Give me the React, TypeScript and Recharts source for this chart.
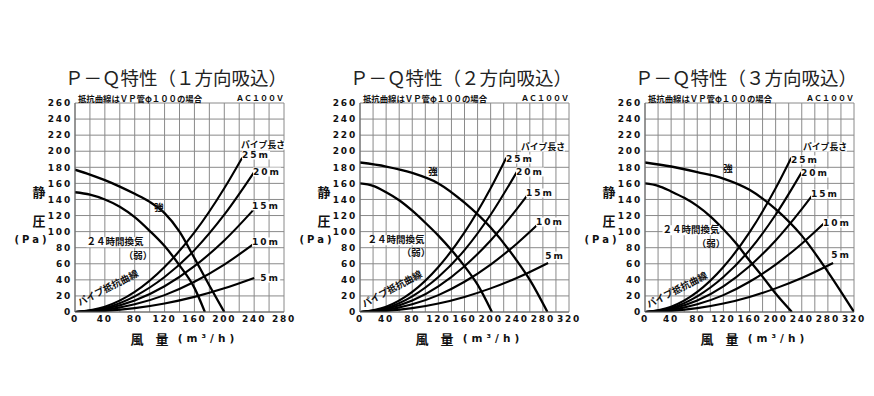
import React from 'react';
import { LineChart, Line, XAxis, YAxis, CartesianGrid } from 'recharts';

// ---------- data ----------
// Pipe resistance curves, VP pipe φ100 : [airflow m3/h, static pressure Pa]
const pipe25m = [[0, 0], [40, 6.5], [80, 25], [120, 56], [160, 99], [200, 154], [224, 192]];
const pipe20m = [[0, 0], [40, 5], [80, 19.5], [120, 43.5], [160, 77], [200, 121], [240, 174]];
const pipe15m = [[0, 0], [40, 3.8], [80, 14.2], [120, 32], [160, 57], [200, 89], [240, 128], [257, 146]];
const pipe10m = [[0, 0], [40, 2.6], [80, 9.6], [120, 21], [160, 37.6], [200, 59], [240, 85], [275, 111]];
const pipe5m = [[0, 0], [40, 1.4], [80, 4.8], [120, 10.6], [160, 18.8], [200, 29.4], [240, 42.3], [288, 61]];

// 1-direction intake
const strong1 = [[0, 177], [20, 171], [40, 164], [60, 156], [80, 147], [100, 137], [120, 123], [140, 100], [160, 67], [180, 33], [200, 0]];
const weak1 = [[0, 149], [20, 146], [40, 140], [60, 131], [80, 118], [100, 101], [120, 82], [140, 58], [160, 30], [174, 0]];
// 2-direction intake
const strong2 = [[0, 186], [40, 181], [80, 173], [120, 160], [160, 136], [200, 105], [240, 64], [260, 40], [287, 0]];
const weak2 = [[0, 160], [20, 157], [40, 149], [60, 139], [80, 126], [100, 111], [120, 95], [140, 77], [160, 57], [180, 34], [202, 0]];
// 3-direction intake
const strong3 = [[0, 186], [40, 181], [80, 174], [120, 166], [160, 152], [200, 128], [240, 95], [280, 50], [320, 0]];
const weak3 = [[0, 160], [20, 157], [40, 150], [60, 142], [80, 132], [100, 119], [120, 103], [140, 85], [160, 64], [180, 44], [200, 23], [225, 0]];

const xTicks280 = [0, 20, 40, 60, 80, 100, 120, 140, 160, 180, 200, 220, 240, 260, 280];
const xTicks320 = [0, 20, 40, 60, 80, 100, 120, 140, 160, 180, 200, 220, 240, 260, 280, 300, 320];
const yTicks = [0, 20, 40, 60, 80, 100, 120, 140, 160, 180, 200, 220, 240, 260];

const titles = ['Ｐ－Ｑ特性（１方向吸込）', 'Ｐ－Ｑ特性（２方向吸込）', 'Ｐ－Ｑ特性（３方向吸込）'];
const subtitle = '抵抗曲線はＶＰ管φ１００の場合';
const voltage = 'ＡＣ１００Ｖ';
const pipeNames = ['25m', '20m', '15m', '10m', '5m'];
const pipeHeader = 'パイプ長さ';
const strongLabel = '強';
const weakLabel1 = '２４時間換気';
const weakLabel2 = '（弱）';
const pipeCurveLabel = 'パイプ抵抗曲線';

// ---------- helpers ----------
const JP = "'Noto Sans CJK JP', 'DejaVu Sans', sans-serif";
const NUM = "'DejaVu Sans', 'Noto Sans CJK JP', sans-serif";
const toPts = (arr: number[][]) => arr.map(([x, y]) => ({ x, y }));

type TProps = {
  x: number; y: number; children: React.ReactNode; size?: number; weight?: number;
  family?: string; rotate?: number; bg?: boolean; ls?: number; anchor?: 'start' | 'middle' | 'end'; color?: string;
};
const T = ({ x, y, children, size = 9, weight = 700, family = JP, rotate = 0, bg = true, ls = 0, anchor = 'middle', color = '#111' }: TProps) => {
  const tx = anchor === 'middle' ? '-50%' : anchor === 'end' ? '-100%' : '0';
  return (
    <div
      style={{
        position: 'absolute', left: x, top: y,
        transform: `translate(${tx}, -50%) rotate(${rotate}deg)`,
        fontSize: size, fontWeight: weight, fontFamily: family, lineHeight: 1,
        whiteSpace: 'nowrap', background: bg ? '#fff' : 'transparent',
        letterSpacing: ls, color,
      }}
    >
      {children}
    </div>
  );
};

type Ann = {
  header: [number, number];
  pipes: [number, number][];
  strong: [number, number];
  weakA: [number, number];
  weakB: [number, number];
  curve: [number, number, number];
};

type PanelProps = {
  idx: number; chartLeft: number; width: number; yAxisWidth: number; marginRight: number;
  xMax: number; xTicks: number[]; strong: number[][]; weak: number[][]; ann: Ann;
};

const PLOT_TOP = 103;
const PLOT_BOTTOM = 312;
const H = 396;

const Panel = ({ idx, chartLeft, width, yAxisWidth, marginRight, xMax, xTicks, strong, weak, ann }: PanelProps) => {
  const plotLeft = chartLeft + yAxisWidth;
  const plotRight = chartLeft + width - marginRight;
  const pipes = [pipe25m, pipe20m, pipe15m, pipe10m, pipe5m].map((p) =>
    idx === 0 ? p.filter(([q]) => q <= 240) : p
  );
  const tickStyle = { fontSize: 9, fontWeight: 700, fill: '#111', fontFamily: NUM, letterSpacing: 1.8 };
  return (
    <>
      <div style={{ position: 'absolute', left: chartLeft, top: 0 }}>
        <LineChart
          width={width}
          height={H}
          margin={{ top: PLOT_TOP, right: marginRight, bottom: H - PLOT_BOTTOM - 20, left: 0 }}
        >
          <CartesianGrid stroke="#8a8a8a" strokeWidth={1} />
          <XAxis
            dataKey="x" type="number" domain={[0, xMax]} ticks={xTicks} interval={0}
            allowDataOverflow height={20} tickSize={0} tickMargin={4}
            axisLine={{ stroke: '#666' }} tickLine={false} tick={tickStyle}
            tickFormatter={(v: number) => (v % 40 === 0 ? String(v) : '')}
          />
          <YAxis
            type="number" domain={[0, 260]} ticks={yTicks} interval={0} allowDataOverflow
            width={yAxisWidth} tickSize={0} tickMargin={3}
            axisLine={{ stroke: '#666' }} tickLine={false} tick={tickStyle}
          />
          {pipes.map((p, i) => (
            <Line key={'p' + i} data={toPts(p)} dataKey="y" type="monotone" stroke="#000"
              strokeWidth={2.1} dot={false} isAnimationActive={false} />
          ))}
          <Line data={toPts(strong)} dataKey="y" type="monotone" stroke="#000" strokeWidth={2.3}
            dot={false} isAnimationActive={false} />
          <Line data={toPts(weak)} dataKey="y" type="monotone" stroke="#000" strokeWidth={2.3}
            dot={false} isAnimationActive={false} />
        </LineChart>
      </div>

      {/* title & header */}
      <T x={plotLeft + 101} y={77} size={18.5} weight={400} bg={false} color="#222">{titles[idx]}</T>
      <T x={plotLeft + 3} y={98} size={8.4} anchor="start" bg={false}>{subtitle}</T>
      <T x={plotRight} y={98} size={8} anchor="end" bg={false}>{voltage}</T>

      {/* axis titles */}
      <T x={plotLeft - 36} y={191} size={13} bg={false}>静</T>
      <T x={plotLeft - 36} y={220} size={13} bg={false}>圧</T>
      <T x={plotLeft - 43} y={240} size={10} family={NUM} ls={3} bg={false}>(Pa)</T>
      <T x={plotLeft + 62} y={338} size={13} bg={false}>風</T>
      <T x={plotLeft + 87} y={338} size={13} bg={false}>量</T>
      <T x={plotLeft + 133} y={338} size={10.5} family={NUM} ls={4} bg={false}>(m³/h)</T>

      {/* annotations */}
      <T x={ann.header[0]} y={ann.header[1]} size={8.8}>{pipeHeader}</T>
      {pipeNames.map((n, i) => (
        <T key={n} x={ann.pipes[i][0]} y={ann.pipes[i][1]} size={9} family={NUM} ls={2}>{n}</T>
      ))}
      <T x={ann.strong[0]} y={ann.strong[1]} size={9.5} bg={false}>{strongLabel}</T>
      <T x={ann.weakA[0]} y={ann.weakA[1]} size={9.5}>{weakLabel1}</T>
      <T x={ann.weakB[0]} y={ann.weakB[1]} size={9.5} bg={false}>{weakLabel2}</T>
      <T x={ann.curve[0]} y={ann.curve[1]} size={9.5} rotate={ann.curve[2]} bg={false}>{pipeCurveLabel}</T>
    </>
  );
};

const ann1: Ann = {
  header: [263, 145],
  pipes: [[256, 155], [267, 172], [266, 206], [266, 242], [270, 278]],
  strong: [159, 208], weakA: [115, 242], weakB: [138, 256], curve: [108, 288, -27],
};
const ann2: Ann = {
  header: [543, 147],
  pipes: [[520, 159], [530, 172], [540, 193], [550, 222], [555, 256]],
  strong: [433, 172], weakA: [396, 240], weakB: [416, 253], curve: [392, 289, -28],
};
const ann3: Ann = {
  header: [825, 147],
  pipes: [[805, 160], [815, 173], [825, 194], [837, 223], [841, 255]],
  strong: [728, 169], weakA: [691, 230], weakB: [711, 244], curve: [677, 290, -27],
};

export default function App() {
  return (
    <div style={{ position: 'absolute', left: 0, top: 0, width: 874, height: 396, background: '#fff', overflow: 'hidden' }}>
      <Panel idx={0} chartLeft={0} width={300} yAxisWidth={75} marginRight={16} xMax={280} xTicks={xTicks280}
        strong={strong1} weak={weak1} ann={ann1} />
      <Panel idx={1} chartLeft={290} width={290} yAxisWidth={70} marginRight={11} xMax={320} xTicks={xTicks320}
        strong={strong2} weak={weak2} ann={ann2} />
      <Panel idx={2} chartLeft={580} width={294} yAxisWidth={65} marginRight={20} xMax={320} xTicks={xTicks320}
        strong={strong3} weak={weak3} ann={ann3} />
    </div>
  );
}
